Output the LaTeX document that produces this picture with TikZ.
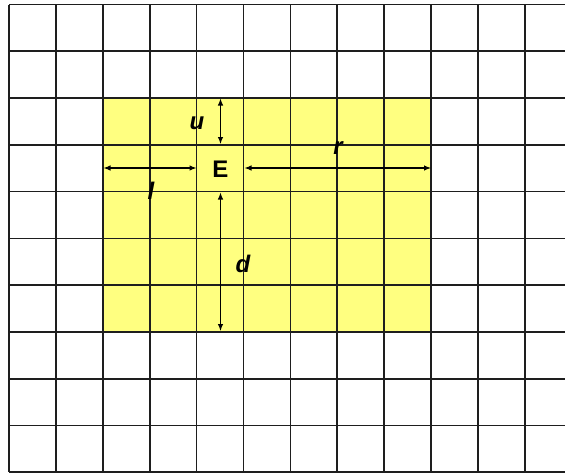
\documentclass[tikz,border=0pt]{standalone}
\usepackage{fontspec}
\setmainfont{Liberation Sans}
\usetikzlibrary{arrows.meta}
\definecolor{cellyellow}{RGB}{255,255,128}
\definecolor{gridline}{RGB}{30,30,30}
\begin{document}
\begin{tikzpicture}[x=1pt,y=-1pt,
  gridstroke/.style={draw=gridline,line width=1.7pt},
  measure/.style={draw=black,line width=1.1pt,{Latex[length=7pt,width=5.5pt]}-{Latex[length=7pt,width=5.5pt]}},
  lbl/.style={font=\fontsize{24}{24}\selectfont\bfseries\itshape,inner sep=0pt},
  cellE/.style={font=\fontsize{24}{24}\selectfont\bfseries,inner sep=0pt}]
\useasboundingbox (0,0) rectangle (565,474);
\def\sx{46.9}\def\sy{46.78}
% yellow region
\fill[cellyellow] (9+2*\sx,4.5+2*\sy) rectangle (9+9*\sx,4.5+7*\sy);
% grid
\foreach \i in {0,...,11} \draw[gridstroke] (9+\i*\sx,4.5) -- (9+\i*\sx,4.5+10*\sy);
\foreach \j in {0,...,10} \draw[gridstroke] (9,4.5+\j*\sy) -- (565,4.5+\j*\sy);
% text
\node[cellE] (E) at (220.5,169) {E};
\node[lbl] (u) at (197,123) {u};
\node[lbl] (l) at (151,191) {l};
\node[lbl] (r) at (338,148) {r};
\node[lbl] (d) at (243,264) {d};
% arrow endpoints
\coordinate (ut) at (220.5,98.5);
\coordinate (ub) at (220.5,144);
\coordinate (ll) at (103.5,168);
\coordinate (lr) at (196.5,168);
\coordinate (rl) at (244.5,168);
\coordinate (rr) at (431,168);
\coordinate (dt) at (220.5,192.5);
\coordinate (db) at (220.5,331);
\draw[measure] (ut) -- (ub);
\draw[measure] (ll) -- (lr);
\draw[measure] (rl) -- (rr);
\draw[measure] (dt) -- (db);
\end{tikzpicture}
\end{document}
